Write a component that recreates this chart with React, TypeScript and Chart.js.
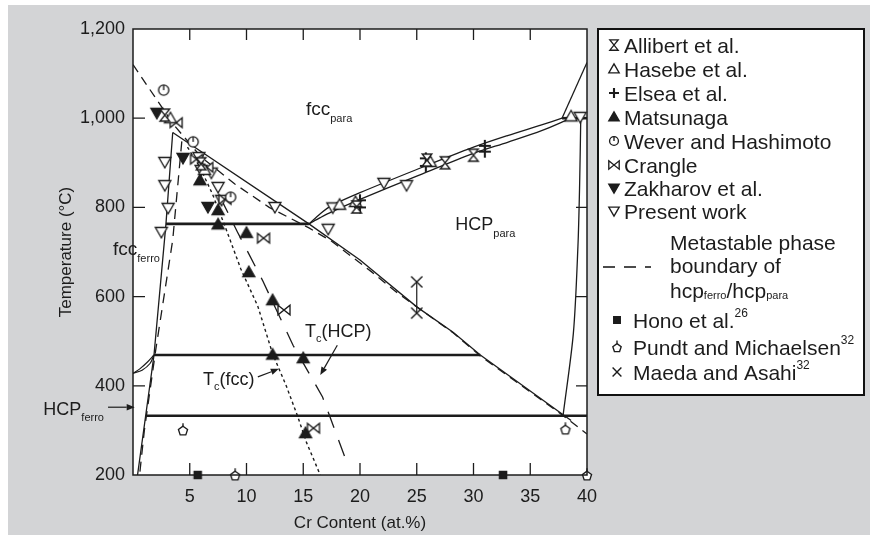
import { useEffect, useRef } from 'react';
import { Chart, registerables } from 'chart.js';

Chart.register(...registerables);

const FONT = '"Liberation Sans", Arial, Helvetica, sans-serif';
const INK = '#1c1c1c';

// ---------- axes ----------
const X_MIN = 0, X_MAX = 40, X_STEP = 5;
const Y_MIN = 200, Y_MAX = 1200, Y_STEP = 200;
const xInnerTicks = [5, 10, 15, 20, 25, 30, 35];
const yLeftTicks = [400, 600, 800, 1000];
const yRightTicks = [400, 600, 800];

// ---------- experimental points [Cr at.%, T °C] ----------
const allibert = [[2.8, 1007], [6.0, 898], [19.7, 801], [25.9, 906], [27.5, 900], [30.0, 917]];
const hasebe = [[3.3, 1000], [6.3, 884], [18.2, 806], [19.6, 812], [26.2, 902], [38.6, 1004]];
const elsea = [[20.0, 800], [20.0, 816], [25.8, 893], [25.8, 910], [31.0, 925], [31.0, 938]];
const matsunaga = [[5.9, 861], [7.5, 794], [7.5, 762], [10.0, 743], [10.2, 655], [12.3, 592], [12.3, 470], [15.0, 462], [15.2, 294]];
const wever = [[2.7, 1063], [5.3, 947], [8.6, 823]];
const crangle = [[3.8, 990], [5.6, 908], [6.5, 890], [8.1, 818], [11.5, 731], [13.3, 570], [15.9, 305]];
const zakharov = [[2.1, 1012], [4.4, 911], [6.6, 801]];
const presentWork = [[2.8, 902], [2.8, 850], [3.1, 799], [2.5, 745], [5.8, 913], [6.0, 884], [6.9, 878], [7.5, 846], [7.8, 817], [12.5, 801], [17.2, 752], [17.6, 800], [22.1, 855], [24.1, 850], [39.4, 1003]];
const hono = [[5.7, 200], [32.6, 200]];
const pundt = [[4.4, 301], [9.0, 200], [38.1, 303], [40.0, 200]];
const maeda = [[25.0, 633], [25.0, 563]];

// ---------- phase boundaries ----------
const fccFerroSolid = [[0.4, 200], [1.85, 469], [2.9, 762], [3.5, 968]];
const fccHcpSolid = [[3.5, 968], [15.5, 763], [20, 682], [25, 577], [28.2, 520], [30.6, 469], [37.9, 335], [38.6, 322]];
const metastableDashed = [[0, 1120], [3.6, 985], [6, 913], [9, 852], [12, 800], [15.5, 754], [17.5, 724], [21, 656], [23, 614], [25, 577], [28.2, 519], [30.6, 467], [37.9, 333], [40, 292]];
const fccFerroDashed = [[4.3, 948], [3.5, 727], [2.0, 480], [1.0, 300], [0.6, 205]];
const tcFccDotted = [[4.8, 935], [5.9, 890], [7, 830], [8, 765], [9.5, 662], [11, 578], [12.3, 472], [13.5, 400], [14.5, 332], [15.3, 272], [16.5, 200]];
const tcHcpDashed = [[7.7, 822], [9.2, 745], [11.4, 637], [14.1, 491], [16.7, 375], [18.7, 238]];
const iso763 = [[2.9, 763], [15.5, 763]];
const iso469 = [[1.85, 469], [30.6, 469]];
const iso333 = [[1.2, 333], [40, 333]];
const iso1000 = [[37.8, 1000], [40, 1000]];
const lensUpper = [[15.5, 763], [16.5, 786], [17.5, 804], [20, 833], [25, 885], [30, 935], [33, 961], [36, 985], [37.8, 1000]];
const lensLower = [[15.5, 763], [16.5, 777], [17.5, 790], [20, 818], [25, 870], [30, 921], [33, 946], [36, 972], [38.4, 998]];
const rightUpper = [[37.8, 1000], [40, 1125]];
const rightSolvus = [[37.9, 335], [38.8, 518], [39.2, 712], [39.35, 850], [39.45, 1000]];
const leftLensA = [[0, 428], [0.6, 438], [1.3, 454], [1.85, 469]];
const leftLensB = [[0, 428], [0.8, 435], [1.5, 450], [1.85, 469]];
const maedaBar = [[25, 563], [25, 633]];

const pts = (a: number[][]) => a.map(([x, y]) => ({ x, y }));

function drawMarker(g: CanvasRenderingContext2D, kind: string, cx: number, cy: number, s: number) {
  g.save();
  g.strokeStyle = INK;
  g.fillStyle = INK;
  g.lineWidth = 1.35;
  g.lineJoin = 'miter';
  const open = (path: () => void) => { g.beginPath(); path(); g.fillStyle = '#fff'; g.fill(); g.stroke(); };
  const solid = (path: () => void) => { g.beginPath(); path(); g.fillStyle = INK; g.fill(); g.stroke(); };
  const up = () => { g.moveTo(cx, cy - s); g.lineTo(cx + s, cy + s * 0.75); g.lineTo(cx - s, cy + s * 0.75); g.closePath(); };
  const down = () => { g.moveTo(cx, cy + s); g.lineTo(cx + s, cy - s * 0.75); g.lineTo(cx - s, cy - s * 0.75); g.closePath(); };
  switch (kind) {
    case 'hourglass':
      open(() => { g.moveTo(cx - s * 0.8, cy - s); g.lineTo(cx + s * 0.8, cy - s); g.lineTo(cx - s * 0.8, cy + s); g.lineTo(cx + s * 0.8, cy + s); g.closePath(); });
      break;
    case 'triUpOpen': open(up); break;
    case 'triUp': solid(up); break;
    case 'triDownOpen': open(down); break;
    case 'triDown': solid(down); break;
    case 'plus':
      g.lineWidth = 2.1;
      g.beginPath();
      g.moveTo(cx - s, cy); g.lineTo(cx + s, cy);
      g.moveTo(cx, cy - s); g.lineTo(cx, cy + s);
      g.stroke();
      break;
    case 'clock': {
      const r = s * 0.85;
      open(() => g.arc(cx, cy, r, 0, Math.PI * 2));
      g.beginPath(); g.moveTo(cx, cy - r); g.lineTo(cx, cy); g.stroke();
      break;
    }
    case 'bowtie':
      open(() => { g.moveTo(cx - s, cy - s * 0.8); g.lineTo(cx + s, cy + s * 0.8); g.lineTo(cx + s, cy - s * 0.8); g.lineTo(cx - s, cy + s * 0.8); g.closePath(); });
      break;
    case 'square':
      solid(() => g.rect(cx - s * 0.6, cy - s * 0.6, s * 1.2, s * 1.2));
      break;
    case 'pentagon': {
      const r = s * 0.8;
      open(() => {
        for (let k = 0; k < 5; k++) {
          const a = -Math.PI / 2 + (k * 2 * Math.PI) / 5;
          const px = cx + r * Math.cos(a), py = cy + 1 + r * Math.sin(a);
          if (k) g.lineTo(px, py); else g.moveTo(px, py);
        }
        g.closePath();
      });
      g.beginPath(); g.moveTo(cx, cy + 1 - r); g.lineTo(cx, cy - r - 2); g.stroke();
      break;
    }
    case 'xcross':
      g.lineWidth = 1.4;
      g.beginPath();
      g.moveTo(cx - s * 0.8, cy - s * 0.8); g.lineTo(cx + s * 0.8, cy + s * 0.8);
      g.moveTo(cx + s * 0.8, cy - s * 0.8); g.lineTo(cx - s * 0.8, cy + s * 0.8);
      g.stroke();
      break;
  }
  g.restore();
}

function markerCanvas(kind: string, s: number) {
  const size = Math.ceil(s * 2 + 6);
  const c = document.createElement('canvas');
  c.width = size; c.height = size;
  drawMarker(c.getContext('2d')!, kind, size / 2, size / 2, s);
  return c;
}

function textRuns(ctx: CanvasRenderingContext2D, x: number, y: number, parts: [string, number, number][]) {
  for (const [t, size, dy] of parts) {
    ctx.font = `${size}px ${FONT}`;
    ctx.fillText(t, x, y + dy);
    x += ctx.measureText(t).width;
  }
  return x;
}

function arrow(ctx: CanvasRenderingContext2D, x1: number, y1: number, x2: number, y2: number) {
  const a = Math.atan2(y2 - y1, x2 - x1);
  const h = 8, w = 3.2;
  ctx.beginPath();
  ctx.moveTo(x1, y1);
  ctx.lineTo(x2 - h * Math.cos(a), y2 - h * Math.sin(a));
  ctx.stroke();
  ctx.beginPath();
  ctx.moveTo(x2, y2);
  ctx.lineTo(x2 - h * Math.cos(a) + w * Math.sin(a), y2 - h * Math.sin(a) - w * Math.cos(a));
  ctx.lineTo(x2 - h * Math.cos(a) - w * Math.sin(a), y2 - h * Math.sin(a) + w * Math.cos(a));
  ctx.closePath();
  ctx.fill();
}

const legendSeries: [string, string][] = [
  ['hourglass', 'Allibert et al.'],
  ['triUpOpen', 'Hasebe et al.'],
  ['plus', 'Elsea et al.'],
  ['triUp', 'Matsunaga'],
  ['clock', 'Wever and Hashimoto'],
  ['bowtie', 'Crangle'],
  ['triDown', 'Zakharov et al.'],
  ['triDownOpen', 'Present work'],
];

const decorPlugin = {
  id: 'decor',
  beforeDraw(chart: any) {
    const { ctx, chartArea: a } = chart;
    ctx.save();
    ctx.fillStyle = '#ffffff';
    ctx.fillRect(a.left, a.top, a.right - a.left, a.bottom - a.top);
    ctx.restore();
  },
  afterDraw(chart: any) {
    const { ctx, chartArea: a } = chart;
    const xs = chart.scales.x, ys = chart.scales.y;
    const X = (v: number) => xs.getPixelForValue(v);
    const Y = (v: number) => ys.getPixelForValue(v);
    ctx.save();
    ctx.strokeStyle = INK;
    ctx.fillStyle = INK;
    // frame
    ctx.lineWidth = 1.5;
    ctx.strokeRect(a.left, a.top, a.right - a.left, a.bottom - a.top);
    // inward ticks
    ctx.lineWidth = 1.3;
    ctx.beginPath();
    for (const v of xInnerTicks) {
      const px = X(v);
      ctx.moveTo(px, a.bottom); ctx.lineTo(px, a.bottom - 12);
      ctx.moveTo(px, a.top); ctx.lineTo(px, a.top + 11);
    }
    for (const v of yLeftTicks) {
      const py = Y(v);
      ctx.moveTo(a.left, py); ctx.lineTo(a.left + 12, py);
    }
    for (const v of yRightTicks) {
      const py = Y(v);
      ctx.moveTo(a.right, py); ctx.lineTo(a.right - 11, py);
    }
    ctx.stroke();

    // annotations
    ctx.textBaseline = 'alphabetic';
    ctx.textAlign = 'left';
    textRuns(ctx, X(15.24), Y(1007), [['fcc', 19, 0], ['para', 11, 7]]);
    textRuns(ctx, X(28.4), Y(749), [['HCP', 18, 0], ['para', 11, 7]]);
    textRuns(ctx, X(-1.76), Y(693), [['fcc', 19, 0], ['ferro', 11, 7]]);
    textRuns(ctx, X(-7.9), Y(334), [['HCP', 18, 0], ['ferro', 11, 6]]);
    textRuns(ctx, X(6.17), Y(402), [['T', 18, 0], ['c', 11, 5], ['(fcc)', 18, 0]]);
    textRuns(ctx, X(15.15), Y(509), [['T', 18, 0], ['c', 11, 5], ['(HCP)', 18, 0]]);
    ctx.lineWidth = 1.2;
    arrow(ctx, X(11.0), Y(420), X(12.85), Y(438));
    arrow(ctx, X(18.0), Y(491), X(16.5), Y(424));
    arrow(ctx, X(-2.2), Y(352), X(0.15), Y(352));

    // legend
    const L = 590, T = 24, W = 266, H = 366;
    ctx.fillStyle = '#ffffff';
    ctx.fillRect(L, T, W, H);
    ctx.lineWidth = 2;
    ctx.strokeStyle = '#111';
    ctx.strokeRect(L, T, W, H);
    ctx.fillStyle = INK;
    const rows = [40, 64, 88, 112, 136, 160, 183, 206];
    legendSeries.forEach(([kind, label], i) => {
      drawMarker(ctx, kind, 606, rows[i], kind === 'plus' ? 5 : 5.2);
      ctx.fillStyle = INK;
      textRuns(ctx, 616, rows[i] + 7.5, [[label, 21, 0]]);
    });
    textRuns(ctx, 662, 237 + 7.5, [['Metastable phase', 21, 0]]);
    textRuns(ctx, 662, 260 + 7.5, [['boundary of', 21, 0]]);
    textRuns(ctx, 662, 285 + 7.5, [['hcp', 21, 0], ['ferro', 11, 1], ['/hcp', 21, 0], ['para', 11, 1]]);
    ctx.save();
    ctx.lineWidth = 1.4;
    ctx.setLineDash([12, 9]);
    ctx.beginPath();
    ctx.moveTo(595, 262); ctx.lineTo(643, 262);
    ctx.stroke();
    ctx.restore();
    const low: [string, string, string, number][] = [
      ['square', 'Hono et al.', '26', 315],
      ['pentagon', 'Pundt and Michaelsen', '32', 342],
      ['xcross', 'Maeda and Asahi', '32', 367],
    ];
    for (const [kind, label, sup, cy] of low) {
      drawMarker(ctx, kind, 609, cy, 5.5);
      ctx.fillStyle = INK;
      textRuns(ctx, 625, cy + 7.5, [[label, 21, 0], [sup, 12, -11]]);
    }
    ctx.restore();
  },
};

export default function App() {
  const ref = useRef<HTMLCanvasElement>(null);
  useEffect(() => {
    const canvas = ref.current!;
    const mk = (kind: string, s = 6) => markerCanvas(kind, s);
    const markers = (data: number[][], style: any) => ({
      data: pts(data), pointStyle: style, pointRadius: 6, pointHoverRadius: 6,
      showLine: false, order: 0, clip: false,
    });
    const line = (data: number[][], width = 1.3, dash: number[] = [], tension = 0) => ({
      data: pts(data), showLine: true, borderColor: INK, borderWidth: width, borderDash: dash,
      pointRadius: 0, pointHoverRadius: 0, fill: false, tension, order: 1,
    });
    const chart = new Chart(canvas, {
      type: 'scatter',
      data: {
        datasets: [
          line(fccFerroSolid),
          line(fccHcpSolid),
          line(metastableDashed, 1.3, [9, 6]),
          line(fccFerroDashed, 1.3, [10, 7]),
          line(tcFccDotted, 1.4, [3, 3]),
          line(tcHcpDashed, 1.3, [17, 13]),
          line(iso763, 2.6),
          line(iso469, 2.6),
          line(iso333, 2.6),
          line(iso1000, 2.6),
          line(lensUpper, 1.3, [], 0.3),
          line(lensLower, 1.3, [], 0.3),
          line(rightUpper),
          line(rightSolvus, 1.3, [], 0.3),
          line(leftLensA, 1.2, [], 0.3),
          line(leftLensB, 1.2, [], 0.3),
          line(maedaBar, 1.2),
          markers(allibert, mk('hourglass')),
          markers(hasebe, mk('triUpOpen')),
          markers(elsea, mk('plus')),
          markers(matsunaga, mk('triUp')),
          markers(wever, mk('clock')),
          markers(crangle, mk('bowtie')),
          markers(zakharov, mk('triDown')),
          markers(presentWork, mk('triDownOpen')),
          markers(hono, mk('square')),
          markers(pundt, mk('pentagon')),
          markers(maeda, mk('xcross', 7)),
        ] as any,
      },
      options: {
        responsive: false,
        animation: false,
        devicePixelRatio: 1,
        layout: { padding: { left: 0, right: 283, top: 24, bottom: 0 } },
        plugins: { legend: { display: false }, tooltip: { enabled: false } },
        scales: {
          x: {
            type: 'linear', min: X_MIN, max: X_MAX,
            afterFit: (s: any) => { s.height = 60; },
            grid: { display: false, drawTicks: false },
            border: { display: false },
            ticks: {
              stepSize: X_STEP, autoSkip: false, maxRotation: 0, padding: 11,
              color: INK, font: { family: FONT, size: 18 },
              callback: (v: any) => (v === 0 ? '' : String(v)),
            },
            title: {
              display: true, text: 'Cr Content (at.%)', color: INK,
              font: { family: FONT, size: 17 }, padding: { top: 0, bottom: 1 },
            },
          },
          y: {
            type: 'linear', min: Y_MIN, max: Y_MAX,
            afterFit: (s: any) => { s.width = 125; },
            grid: { display: false, drawTicks: false },
            border: { display: false },
            ticks: {
              stepSize: Y_STEP, padding: 8, color: INK, font: { family: FONT, size: 18 },
              callback: (v: any) => Number(v).toLocaleString('en-US'),
            },
            title: {
              display: true, text: 'Temperature (°C)', color: INK,
              font: { family: FONT, size: 17 }, padding: { top: 48, bottom: 0 },
            },
          },
        },
      } as any,
      plugins: [decorPlugin],
    });
    return () => chart.destroy();
  }, []);
  return (
    <div style={{ position: 'absolute', left: 8, top: 5, width: 862, height: 530, background: '#d3d4d6' }}>
      <canvas ref={ref} width={862} height={530} style={{ display: 'block', width: 862, height: 530 }} />
    </div>
  );
}
